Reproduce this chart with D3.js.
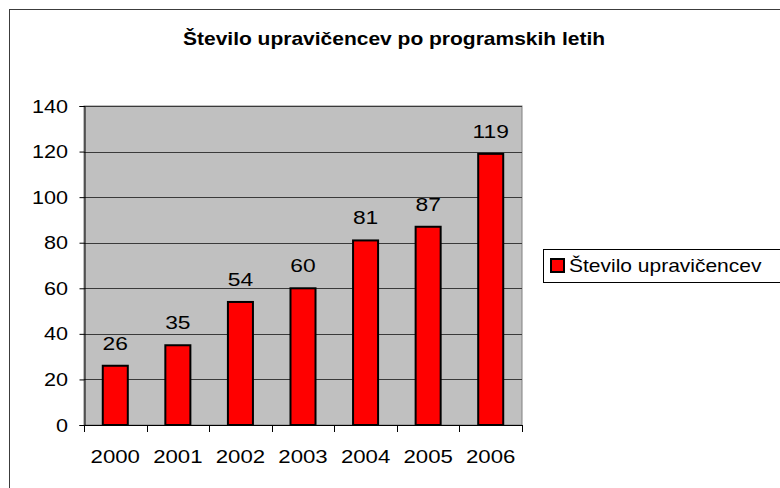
<!DOCTYPE html>
<html>
<head>
<meta charset="utf-8">
<script src="https://cdn.jsdelivr.net/npm/d3@7"></script>
<style>
  body { margin: 0; background: #fff; }
  text { font-family: "Liberation Sans", Arial, sans-serif; fill: #000; }
</style>
</head>
<body>
<div id="chart"></div>
<script>
// data
const years = ['2000', '2001', '2002', '2003', '2004', '2005', '2006'];
const values = [26, 35, 54, 60, 81, 87, 119];
const yTicks = [0, 20, 40, 60, 80, 100, 120, 140];
const seriesName = 'Število upravičencev';
const title = 'Število upravičencev po programskih letih';

const width = 780, height = 488;
const plot = { left: 84, right: 522, top: 106, bottom: 425 };
const sx = 1.2; // text in the picture is a bit wider than plain Arial

const svg = d3.select('#chart').append('svg')
    .attr('width', width)
    .attr('height', height);

// helper: text with horizontal stretch
function label(g, x, y, str, size, anchor, weight) {
    return g.append('text')
        .attr('transform', `translate(${x},${y}) scale(${sx},1)`)
        .attr('text-anchor', anchor || 'start')
        .style('font-size', size + 'px')
        .style('font-weight', weight || 'normal')
        .text(str);
}

// chart area border (runs off the picture right and bottom)
svg.append('rect')
    .attr('x', 9.5).attr('y', 9.5)
    .attr('width', 820).attr('height', 520)
    .attr('fill', '#fff')
    .attr('stroke', '#3c3c3c');

const x = d3.scaleBand()
    .domain(years)
    .range([plot.left, plot.right])
    .paddingInner(0.6)
    .paddingOuter(0.3);

const y = d3.scaleLinear()
    .domain([0, 140])
    .range([plot.bottom, plot.top]);

// plot area
svg.append('rect')
    .attr('x', plot.left).attr('y', plot.top)
    .attr('width', plot.right - plot.left)
    .attr('height', plot.bottom - plot.top)
    .attr('fill', '#c0c0c0')
    .attr('stroke', '#808080');

// gridlines
svg.selectAll('.grid')
    .data(yTicks.filter(d => d > 0))
    .enter().append('line')
    .attr('class', 'grid')
    .attr('x1', plot.left).attr('x2', plot.right)
    .attr('y1', d => Math.round(y(d)) + 0.5)
    .attr('y2', d => Math.round(y(d)) + 0.5)
    .attr('stroke', '#3a3a3a');

// bars
svg.selectAll('.bar')
    .data(values)
    .enter().append('rect')
    .attr('class', 'bar')
    .attr('x', (d, i) => x(years[i]))
    .attr('y', d => y(d))
    .attr('width', x.bandwidth())
    .attr('height', d => y(0) - y(d))
    .attr('fill', '#ff0000')
    .attr('stroke', '#000')
    .attr('stroke-width', 2);

// y axis
const yAxis = svg.append('g')
    .attr('transform', `translate(${plot.left + 0.5},0)`)
    .call(d3.axisLeft(y).tickValues(yTicks).tickSize(5).tickFormat(''));
yAxis.select('.domain').attr('stroke', '#000');
yAxis.selectAll('.tick line').attr('stroke', '#000');

yTicks.forEach(t => {
    label(svg, 68, y(t) + 6.5, t, 18, 'end');
});

// x axis: line and ticks at category boundaries
const step = x.step();
const xAxis = svg.append('g');
xAxis.append('line')
    .attr('x1', plot.left).attr('x2', plot.right)
    .attr('y1', plot.bottom + 0.5).attr('y2', plot.bottom + 0.5)
    .attr('stroke', '#000');
xAxis.selectAll('.xt')
    .data(d3.range(years.length + 1))
    .enter().append('line')
    .attr('class', 'xt')
    .attr('x1', i => Math.round(plot.left + i * step) + 0.5)
    .attr('x2', i => Math.round(plot.left + i * step) + 0.5)
    .attr('y1', plot.bottom)
    .attr('y2', plot.bottom + 7)
    .attr('stroke', '#000');

years.forEach(yr => {
    label(svg, x(yr) + x.bandwidth() / 2, 463, yr, 18.5, 'middle');
});

// data labels
values.forEach((v, i) => {
    label(svg, x(years[i]) + x.bandwidth() / 2, y(v) - 16, v, 19, 'middle');
});

// title
label(svg, 183, 45, title, 17.5, 'start', 'bold');

// legend
svg.append('rect')
    .attr('x', 543.5).attr('y', 249.5)
    .attr('width', 300).attr('height', 33)
    .attr('fill', '#fff')
    .attr('stroke', '#000');
svg.append('rect')
    .attr('x', 551).attr('y', 259)
    .attr('width', 13).attr('height', 13)
    .attr('fill', '#ff0000')
    .attr('stroke', '#000')
    .attr('stroke-width', 2);
label(svg, 569, 272, seriesName, 17.5, 'start');
</script>
</body>
</html>
